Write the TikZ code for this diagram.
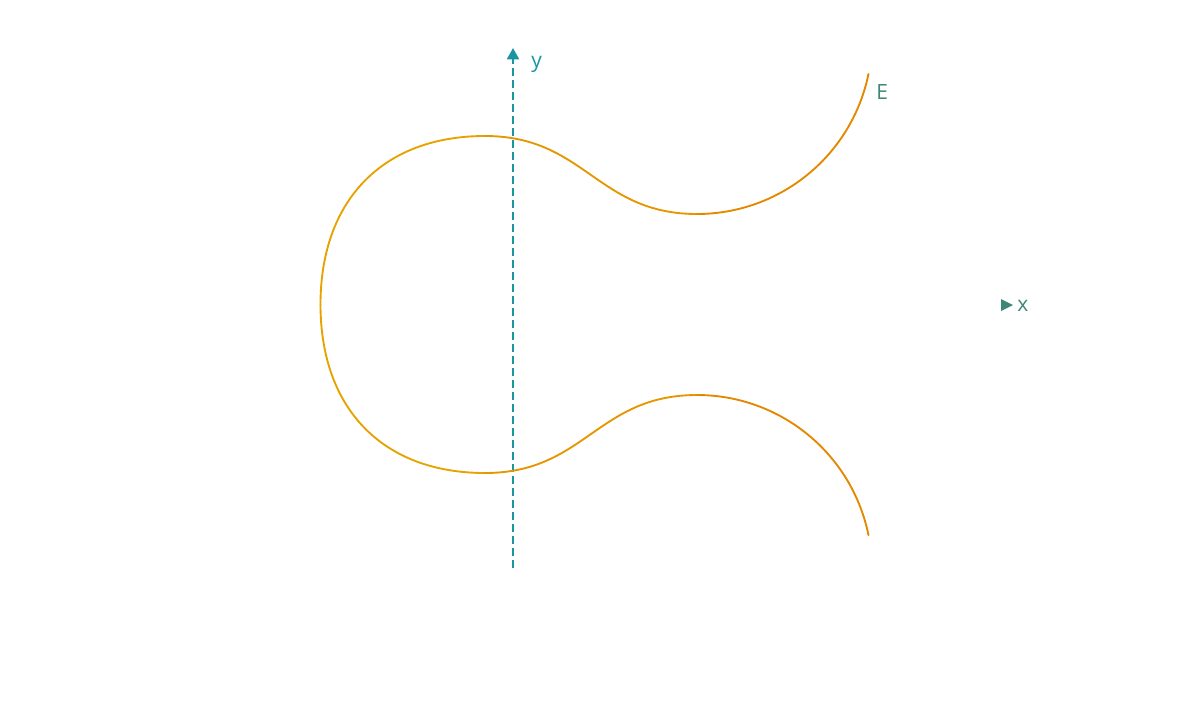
\documentclass[tikz,border=0pt]{standalone}
\usepackage{fontspec}
\setmainfont{Open Sans}
\usetikzlibrary{arrows.meta}
\definecolor{axisteal}{HTML}{1A96A3}
\definecolor{labelgreen}{HTML}{3F8676}
\definecolor{curveyellow}{HTML}{E6A300}
\definecolor{curvemid}{HTML}{E59600}
\definecolor{curveorange}{HTML}{E48800}
\tikzset{
  axisline/.style  = {axisteal, line width=1.5bp, dash pattern=on 6bp off 3bp,
                      -{Triangle[length=8.5bp,width=9bp]}},
  curveline/.style = {line width=1.4bp, line cap=round},
  lbl/.style       = {font=\fontsize{15.8}{18}\selectfont, inner sep=0pt, anchor=base west},
}

\begin{document}
\begin{tikzpicture}[x=0.75bp,y=0.75bp]
\useasboundingbox (-513,-403.5) rectangle (687,304.5);
\coordinate (O) at (0,0);
\coordinate (ybot) at (0,-263.5);
\coordinate (ytop) at (0,256.5);
\coordinate (xtip) at (500,-0.5);
% y axis, x arrow only
\draw[axisline] (ybot) -- (ytop);
\fill[labelgreen] (xtip) -- ++(-12,6) -- ++(0,-12) -- cycle;
\node[lbl,axisteal] (ylabel) at (18,237.5) {y};
\node[lbl,labelgreen] (xlabel) at (504,-6.5) {x};
% the curve, upper half and its mirror
\foreach \s in {1,-1} {
  \begin{scope}[yscale=\s]
    \coordinate (left) at (-192.5,0);
    \coordinate (hump) at (-28,168.5);
    \coordinate (dip) at (184,90.5);
    \draw[curveline,curveyellow] (left) .. controls (-192.5,104.5) and (-130,168.5) .. (hump);
    \draw[curveline,curvemid] (hump) .. controls (72,168.5) and (84,90.5) .. (dip);
    \draw[curveline,curveorange] (dip) arc[start angle=-90, end angle=-11.5, radius=175];
  \end{scope}
}
\node[lbl,labelgreen] (elabel) at (363,205.5) {E};
\end{tikzpicture}
\end{document}
